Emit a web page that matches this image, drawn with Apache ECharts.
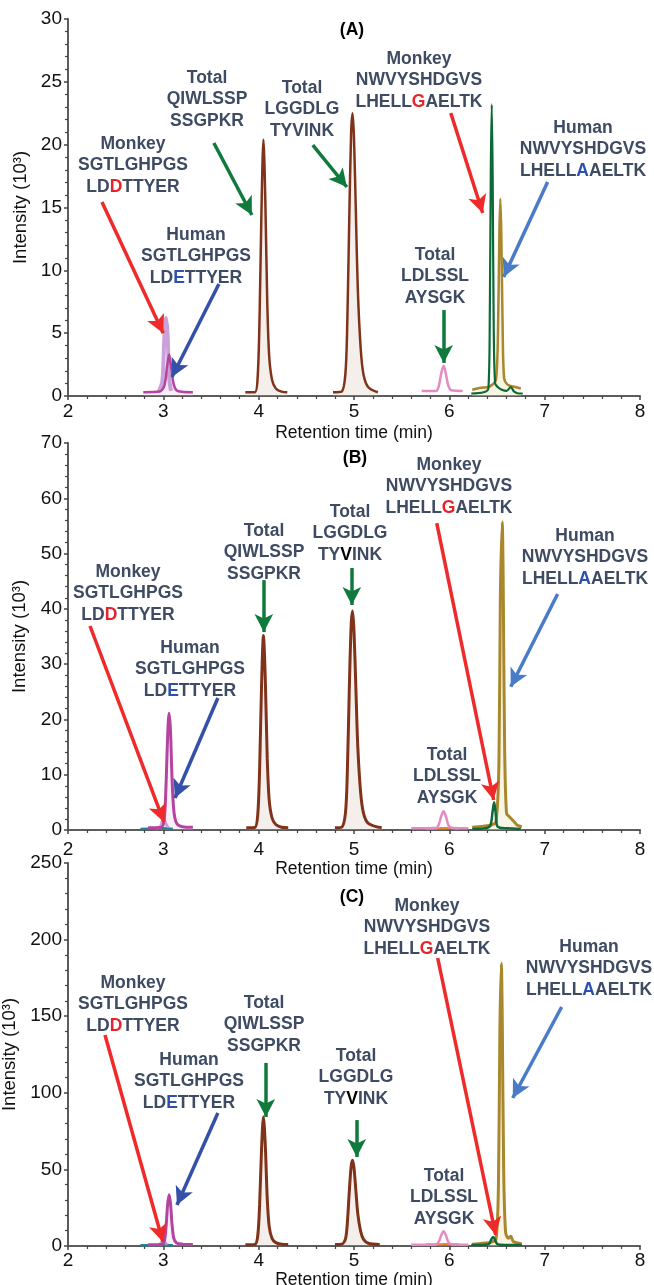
<!DOCTYPE html>
<html lang="en">
<head>
<meta charset="UTF-8">
<title>Retention time chromatograms</title>
<script src="https://cdn.jsdelivr.net/npm/echarts@6.0.0/dist/echarts.min.js"></script>
<style>
  html, body { margin: 0; padding: 0; background: #fff; }
  #chart { width: 654px; height: 1285px; }
</style>
</head>
<body>
<div id="chart"></div>
<script>
// [retention time (min), intensity (10^3)]

// (A)
var aMonkeyD = [[2.95,0.3],[2.99,1.2],[3.01,4.5],[3.03,6.2],[3.045,4.8],[3.06,1.5],[3.08,0.4]];
var aHumanE  = [[2.79,0.3],[2.96,0.35],[3.01,0.8],[3.04,2.4],[3.06,3.3],[3.08,2.4],[3.11,0.9],[3.15,0.4],[3.31,0.3]];
var aQiw     = [[3.86,0.3],[3.96,0.3],[3.99,1.6],[4.01,6.5],[4.03,15],[4.05,20.4],[4.07,15.5],[4.09,7.5],[4.11,3.2],[4.14,1.3],[4.18,0.6],[4.24,0.35],[4.30,0.3]];
var aLgg     = [[4.78,0.3],[4.87,0.35],[4.91,1.8],[4.93,6],[4.95,14],[4.97,21],[4.985,22.5],[5.00,20.5],[5.02,14.5],[5.04,8.5],[5.07,3.8],[5.10,1.7],[5.15,0.7],[5.25,0.3]];
var aLdl     = [[5.71,0.4],[5.86,0.4],[5.89,0.8],[5.915,1.8],[5.94,2.4],[5.965,1.7],[5.99,0.8],[6.02,0.45],[6.14,0.4]];
var aMonkeyG = [[6.23,0.2],[6.36,0.3],[6.41,0.6],[6.425,7],[6.435,18],[6.445,23.2],[6.455,17],[6.465,6],[6.48,1.0],[6.51,0.7],[6.55,0.5],[6.60,0.4],[6.645,0.7],[6.68,0.35],[6.73,0.2],[6.77,0.2]];
var aHumanA  = [[6.24,0.5],[6.33,0.65],[6.40,0.7],[6.45,0.9],[6.49,1.3],[6.51,5],[6.525,13],[6.535,15.7],[6.545,13],[6.56,5],[6.575,1.4],[6.61,0.9],[6.67,0.75],[6.75,0.6]];

// (B)
var bMonkeyD = [[2.92,0.3],[2.97,0.6],[3.00,2.2],[3.025,1.2],[3.05,0.4]];
var bTeal    = [[2.76,0.2],[2.90,0.25],[3.00,0.3],[3.10,0.2]];
var bHumanE  = [[2.84,0.4],[2.98,0.5],[3.01,2],[3.03,9],[3.045,17],[3.06,21.1],[3.075,18],[3.09,10],[3.11,3.5],[3.14,1.2],[3.20,0.6],[3.31,0.5]];
var bQiw     = [[3.87,0.4],[3.96,0.45],[3.99,2.7],[4.01,11],[4.03,26],[4.05,35.2],[4.07,27],[4.09,13],[4.11,5.5],[4.14,2.2],[4.18,1],[4.24,0.5],[4.31,0.4]];
var bLgg     = [[4.80,0.4],[4.87,0.5],[4.91,3],[4.93,10.5],[4.95,25],[4.97,37],[4.985,39.6],[5.00,36],[5.02,25.5],[5.04,15],[5.07,6.7],[5.10,3],[5.15,1.2],[5.29,0.4]];
var bLdl     = [[5.60,0.3],[5.86,0.35],[5.89,1.0],[5.915,2.5],[5.94,3.4],[5.965,2.4],[5.99,0.9],[6.02,0.4],[6.20,0.3]];
var bOrange  = [[5.75,0.25],[5.90,0.3],[6.00,0.35],[6.10,0.25]];
var bMonkeyG = [[6.24,0.2],[6.38,0.3],[6.43,0.8],[6.455,3.5],[6.47,5.0],[6.485,3.2],[6.50,0.8],[6.53,0.4],[6.60,0.3],[6.75,0.2]];
var bHumanA  = [[6.24,0.5],[6.35,0.7],[6.44,0.9],[6.49,1.5],[6.52,12],[6.535,42],[6.555,55.7],[6.565,45],[6.58,15],[6.60,3],[6.63,2.4],[6.68,1.5],[6.71,0.9],[6.76,0.6]];

// (C)
var cMonkeyD = [[2.95,0.5],[3.00,3],[3.04,0.5]];
var cTeal    = [[2.76,0.5],[2.90,0.5],[3.00,0.7],[3.10,0.5]];
var cHumanE  = [[2.84,0.8],[2.98,1],[3.01,3],[3.03,14],[3.045,27],[3.06,33.5],[3.075,28],[3.09,15],[3.11,5],[3.14,2],[3.20,1.2],[3.31,1]];
var cQiw     = [[3.86,0.8],[3.96,1],[3.99,6.5],[4.01,27],[4.03,63],[4.05,84.4],[4.07,65],[4.09,31],[4.11,13],[4.14,5],[4.18,2.2],[4.24,1.2],[4.31,1]];
var cLgg     = [[4.80,1],[4.87,1.2],[4.91,4.5],[4.93,15],[4.95,35],[4.97,52],[4.985,56],[5.00,51],[5.02,36],[5.04,21],[5.07,9.5],[5.10,4.3],[5.15,1.8],[5.27,1]];
var cLdl     = [[5.60,0.8],[5.86,1],[5.89,2.8],[5.915,7],[5.94,9.7],[5.965,6.8],[5.99,2.5],[6.02,1.1],[6.20,0.8]];
var cOrange  = [[5.75,0.8],[5.90,1],[6.00,1.2],[6.10,0.9]];
var cMonkeyG = [[6.23,0.6],[6.38,0.8],[6.42,1.5],[6.44,4.3],[6.46,5.8],[6.48,4],[6.50,1.4],[6.53,0.8],[6.60,0.7],[6.76,0.6]];
var cHumanA  = [[6.24,1.2],[6.35,1.8],[6.44,2.5],[6.49,4.5],[6.515,40],[6.53,140],[6.545,184.5],[6.555,150],[6.57,50],[6.59,9],[6.62,5],[6.645,6.3],[6.67,3],[6.72,2],[6.76,1.5]];

// y axis range per panel
var yMax  = [30, 70, 250];
var yStep = [5, 10, 50];

// arrows: [x1, y1, x2, y2, colour key] in data units
var aArrows = [[2.356,15.44,2.999,4.99,'red'],[3.583,8.91,3.090,1.51,'blue'],[3.530,20.13,3.929,14.40,'green'],
               [4.568,19.97,4.925,16.63,'green'],[6.015,22.52,6.350,14.56,'red'],[7.031,17.03,6.570,9.47,'blue2'],
               [5.941,6.84,5.941,2.63,'green']];
var bArrows = [[2.231,36.9,3.006,1.45,'red'],[3.572,23.87,3.122,5.79,'blue'],[4.054,45.2,4.054,35.8,'green'],
               [4.977,47.4,4.977,40.7,'green'],[5.868,55.5,6.465,5.43,'red'],[7.136,42.7,6.644,25.9,'blue2']];
var cArrows = [[2.388,137.7,2.996,2.6,'red'],[3.572,86.8,3.143,26.8,'blue'],[4.075,119.5,4.075,84.2,'green'],
               [5.029,82.2,5.029,58.1,'green'],[5.878,188,6.486,7.2,'red'],[7.178,156,6.665,96.6,'blue2']];

var arrowColors = { red: '#ee2a2a', blue: '#3550a8', blue2: '#4a7bc8', green: '#0f7a3c' };
var FONT = '"Liberation Sans", Arial, sans-serif';

var chart = echarts.init(document.getElementById('chart'));

var grids = [
  { left: 68, top: 19,  width: 572, height: 377, outerBoundsMode: 'none', containLabel: false },
  { left: 68, top: 443, width: 572, height: 387, outerBoundsMode: 'none', containLabel: false },
  { left: 68, top: 863, width: 572, height: 383, outerBoundsMode: 'none', containLabel: false }
];
var labelMargin = [6, 10, 5];
var xNameGap = [28, 21, 22];
var yNameGap = [33, 39, 43];

var xAxes = [], yAxes = [], series = [];
for (var i = 0; i < 3; i++) {
  xAxes.push({
    type: 'value', gridIndex: i, min: 2, max: 8, interval: 1,
    axisLine: { onZero: false, lineStyle: { color: '#5c5c5c', width: 2 } },
    axisTick: { length: 4, lineStyle: { color: '#444', width: 1.5 } },
    minorTick: { show: true, splitNumber: 5, length: 3, lineStyle: { color: '#444', width: 1.2 } },
    splitLine: { show: false },
    axisLabel: { fontSize: 19, color: '#111', fontFamily: FONT, margin: labelMargin[i] },
    name: 'Retention time (min)', nameLocation: 'middle', nameGap: xNameGap[i],
    nameTextStyle: { fontSize: 17.5, color: '#111', fontFamily: FONT }
  });
  yAxes.push({
    type: 'value', gridIndex: i, min: 0, max: yMax[i], interval: yStep[i],
    axisLine: { show: true, lineStyle: { color: '#5c5c5c', width: 2 } },
    axisTick: { show: true, length: 4, lineStyle: { color: '#444', width: 1.5 } },
    minorTick: { show: true, splitNumber: 5, length: 3, lineStyle: { color: '#444', width: 1.2 } },
    splitLine: { show: false },
    axisLabel: { fontSize: 19, color: '#111', fontFamily: FONT, margin: 6 },
    name: 'Intensity (10³)', nameLocation: 'middle', nameGap: yNameGap[i], nameRotate: 90,
    nameTextStyle: { fontSize: 18.5, color: '#111', fontFamily: FONT }
  });
}

function trace(g, data, color, width, fill) {
  var s = {
    type: 'line', xAxisIndex: g, yAxisIndex: g, data: data,
    symbol: 'none', smooth: 0.3, silent: true,
    lineStyle: { color: color, width: width }
  };
  if (fill) s.areaStyle = { color: fill, origin: 'start' };
  return s;
}

function arrows(g, list) {
  return {
    type: 'line', xAxisIndex: g, yAxisIndex: g, data: [], silent: true, z: 5,
    markLine: {
      silent: true, animation: false,
      symbol: ['none', 'arrow'], symbolSize: [14, 18],
      label: { show: false },
      lineStyle: { width: 3.5, type: 'solid' },
      data: list.map(function (a) {
        return [
          { coord: [a[0], a[1]], lineStyle: { color: arrowColors[a[4]] } },
          { coord: [a[2], a[3]] }
        ];
      })
    }
  };
}

var BROWN = '#80331b', BROWN_FILL = 'rgba(214,190,175,0.35)';
var MAGENTA = '#b4449f', LILAC = 'rgba(186,130,206,0.75)', PINK = '#e48bc6';
var GREEN = '#0d6a37', GOLD = '#a9872d', GOLD_FILL = 'rgba(235,226,180,0.5)';
var TEAL = '#20808f', ORANGE = '#e8843a';

series.push(
  trace(0, aMonkeyD, LILAC, 4),
  trace(0, aHumanE, MAGENTA, 2.5, 'rgba(220,180,220,0.3)'),
  trace(0, aQiw, BROWN, 2.5, BROWN_FILL),
  trace(0, aLgg, BROWN, 2.5, BROWN_FILL),
  trace(0, aLdl, PINK, 2.5),
  trace(0, aHumanA, GOLD, 2.5, GOLD_FILL),
  trace(0, aMonkeyG, GREEN, 2.2),
  arrows(0, aArrows),

  trace(1, bTeal, TEAL, 2.5),
  trace(1, bMonkeyD, LILAC, 3),
  trace(1, bHumanE, MAGENTA, 3, 'rgba(230,195,230,0.35)'),
  trace(1, bQiw, BROWN, 3, BROWN_FILL),
  trace(1, bLgg, BROWN, 3, BROWN_FILL),
  trace(1, bOrange, ORANGE, 2.5),
  trace(1, bLdl, PINK, 2.5),
  trace(1, bHumanA, GOLD, 3, GOLD_FILL),
  trace(1, bMonkeyG, GREEN, 2.5),
  arrows(1, bArrows),

  trace(2, cTeal, TEAL, 2.5),
  trace(2, cMonkeyD, LILAC, 3),
  trace(2, cHumanE, MAGENTA, 3, 'rgba(230,195,230,0.35)'),
  trace(2, cQiw, BROWN, 3, BROWN_FILL),
  trace(2, cLgg, BROWN, 3, BROWN_FILL),
  trace(2, cOrange, ORANGE, 2.5),
  trace(2, cLdl, PINK, 2.5),
  trace(2, cHumanA, GOLD, 3, GOLD_FILL),
  trace(2, cMonkeyG, GREEN, 2.5),
  arrows(2, cArrows)
);

// peptide labels
var LH = 21.5;
function tok(color) {
  return { fill: color, fontWeight: 'bold', fontSize: 17.5, fontFamily: FONT, lineHeight: LH };
}
var rich = { r: tok('#e8222b'), b: tok('#2d4fb0'), k: tok('#000000') };
function lab(x, y0, text) {
  return {
    type: 'text', x: x, y: y0 - LH / 2, silent: true, z: 100,
    style: {
      text: text, rich: rich, fill: '#3e4b63',
      fontWeight: 'bold', fontSize: 17.5, fontFamily: FONT, lineHeight: LH,
      align: 'center', verticalAlign: 'top'
    }
  };
}
function panel(x, y, t) {
  return {
    type: 'text', x: x, y: y, silent: true, z: 100,
    style: { text: t, fill: '#000', fontWeight: 'bold', fontSize: 17.5, fontFamily: FONT,
             align: 'center', verticalAlign: 'middle' }
  };
}

var graphics = [
  panel(352, 30, '(A)'),
  lab(133, 144, 'Monkey\nSGTLGHPGS\nLD{r|D}TTYER'),
  lab(196, 235, 'Human\nSGTLGHPGS\nLD{b|E}TTYER'),
  lab(207, 78, 'Total\nQIWLSSP\nSSGPKR'),
  lab(302, 88, 'Total\nLGGDLG\nTYVINK'),
  lab(419, 59, 'Monkey\nNWVYSHDGVS\nLHELL{r|G}AELTK'),
  lab(583, 128, 'Human\nNWVYSHDGVS\nLHELL{b|A}AELTK'),
  lab(435, 255, 'Total\nLDLSSL\nAYSGK'),

  panel(355, 458, '(B)'),
  lab(128, 572, 'Monkey\nSGTLGHPGS\nLD{r|D}TTYER'),
  lab(190, 648, 'Human\nSGTLGHPGS\nLD{b|E}TTYER'),
  lab(264, 531, 'Total\nQIWLSSP\nSSGPKR'),
  lab(350, 512, 'Total\nLGGDLG\nTY{k|V}INK'),
  lab(449, 465, 'Monkey\nNWVYSHDGVS\nLHELL{r|G}AELTK'),
  lab(585, 536, 'Human\nNWVYSHDGVS\nLHELL{b|A}AELTK'),
  lab(447, 755, 'Total\nLDLSSL\nAYSGK'),

  panel(352, 897, '(C)'),
  lab(133, 983, 'Monkey\nSGTLGHPGS\nLD{r|D}TTYER'),
  lab(189, 1060, 'Human\nSGTLGHPGS\nLD{b|E}TTYER'),
  lab(264, 1003, 'Total\nQIWLSSP\nSSGPKR'),
  lab(356, 1056, 'Total\nLGGDLG\nTY{k|V}INK'),
  lab(427, 906, 'Monkey\nNWVYSHDGVS\nLHELL{r|G}AELTK'),
  lab(589, 947, 'Human\nNWVYSHDGVS\nLHELL{b|A}AELTK'),
  lab(444, 1176, 'Total\nLDLSSL\nAYSGK')
];

chart.setOption({
  animation: false,
  backgroundColor: '#ffffff',
  grid: grids,
  xAxis: xAxes,
  yAxis: yAxes,
  series: series,
  graphic: graphics
});
</script>
</body>
</html>
